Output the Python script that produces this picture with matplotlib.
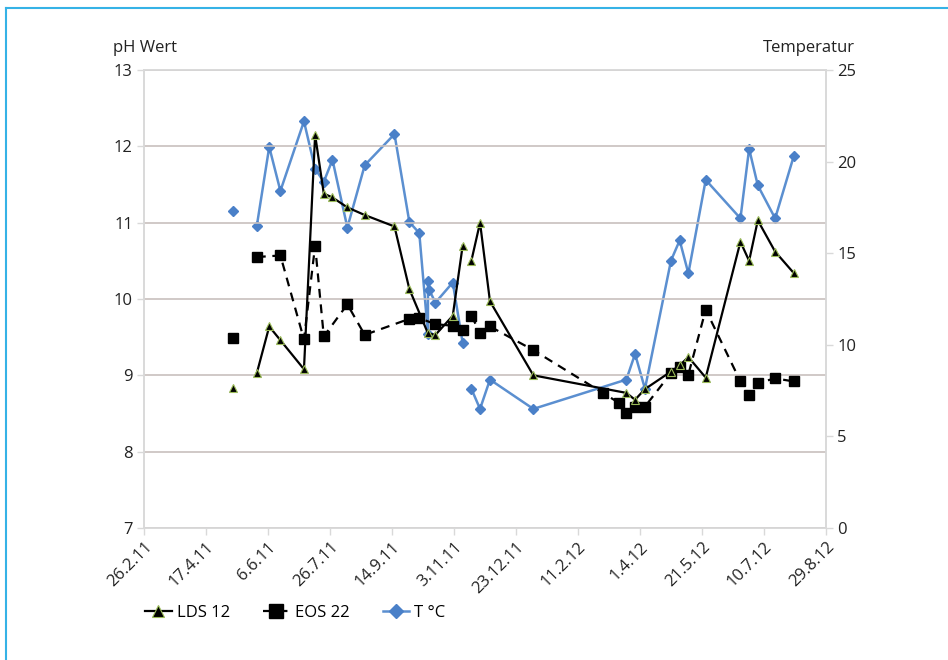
import matplotlib.pyplot as plt
import numpy as np
import pandas as pd

plt.rcParams['font.family'] = ['Open Sans', 'DejaVu Sans']

nan = np.nan

# LDS 12 (pH)
lds_dates = ['2011-05-09', '2011-05-18', '2011-05-28', '2011-06-07', '2011-06-16',
             '2011-07-05', '2011-07-14', '2011-07-21', '2011-07-28', '2011-08-09',
             '2011-08-23', '2011-09-16', '2011-09-28', '2011-10-13', '2011-10-19',
             '2011-11-02', '2011-11-10', '2011-11-14', '2011-11-17', '2011-11-24',
             '2011-12-02', '2012-01-06', '2012-03-21', '2012-03-28', '2012-04-05',
             '2012-04-26', '2012-05-03', '2012-05-10', '2012-05-24', '2012-06-21',
             '2012-06-28', '2012-07-05', '2012-07-19', '2012-08-03']
lds_vals = [8.84, nan, 9.03, 9.64, 9.46,
            9.08, 12.15, 11.38, 11.33, 11.20,
            11.10, 10.95, 10.13, 9.55, 9.53,
            9.78, 10.70, nan, 10.50, 11.00,
            9.97, 9.00, 8.77, 8.68, 8.82,
            9.05, 9.13, 9.24, 8.97, 10.75,
            10.50, 11.03, 10.62, 10.34]

# EOS 22 (pH)
eos_dates = ['2011-05-09', '2011-05-18', '2011-05-28', '2011-06-16', '2011-07-05',
             '2011-07-14', '2011-07-21', '2011-08-09', '2011-08-23', '2011-09-28',
             '2011-10-06', '2011-10-19', '2011-11-02', '2011-11-10', '2011-11-14',
             '2011-11-17', '2011-11-24', '2011-12-02', '2012-01-06', '2012-03-02',
             '2012-03-15', '2012-03-21', '2012-03-28', '2012-04-05', '2012-04-26',
             '2012-05-03', '2012-05-10', '2012-05-24', '2012-06-21', '2012-06-28',
             '2012-07-05', '2012-07-19', '2012-08-03']
eos_vals = [9.49, nan, 10.55, 10.57, 9.47,
            10.70, 9.51, 9.93, 9.53, 9.74,
            9.75, 9.67, 9.65, 9.60, nan,
            9.78, 9.56, 9.64, 9.33, 8.77,
            8.64, 8.51, 8.59, 8.59, 9.03,
            9.11, 9.01, 9.86, 8.92, 8.74,
            8.90, 8.96, 8.92]

# T °C
t_dates = ['2011-05-09', '2011-05-18', '2011-05-28', '2011-06-07', '2011-06-16',
           '2011-07-05', '2011-07-14', '2011-07-21', '2011-07-28', '2011-08-09',
           '2011-08-23', '2011-09-16', '2011-09-28', '2011-10-06', '2011-10-13',
           '2011-10-13', '2011-10-14', '2011-10-19', '2011-11-02', '2011-11-10',
           '2011-11-14', '2011-11-17', '2011-11-24', '2011-12-02', '2012-01-06',
           '2012-03-21', '2012-03-28', '2012-04-05', '2012-04-26', '2012-05-03',
           '2012-05-10', '2012-05-24', '2012-06-21', '2012-06-28', '2012-07-05',
           '2012-07-19', '2012-08-03']
t_vals = [17.3, nan, 16.5, 20.8, 18.4,
          22.2, 19.6, 18.9, 20.1, 16.4,
          19.8, 21.5, 16.7, 16.1, 10.6,
          13.5, 13.0, 12.3, 13.4, 10.1,
          nan, 7.6, 6.5, 8.1, 6.5,
          8.1, 9.5, 7.6, 14.6, 15.7,
          13.9, 19.0, 16.9, 20.7, 18.7,
          16.9, 20.3]

x_start = pd.Timestamp('2011-02-26')
x_end = pd.Timestamp('2012-08-29')
tick_dates = pd.date_range(x_start, x_end, freq='50D')
tick_labels = [f'{d.day}.{d.month}.{d.year % 100}' for d in tick_dates]

fig = plt.figure(figsize=(9.48, 6.6), dpi=100)
ax = fig.add_axes([144 / 948, 1 - 528 / 660, 682 / 948, 458 / 660])
ax2 = ax.twinx()

# frame round the whole figure (top and left only)
fig.add_artist(plt.Line2D([6 / 948, 6 / 948], [0, 1 - 8 / 660], color='#35B2E6', lw=1.5))
fig.add_artist(plt.Line2D([6 / 948, 1], [1 - 8 / 660, 1 - 8 / 660], color='#35B2E6', lw=1.5))

blue = '#5B8FD0'
ax2.plot(pd.to_datetime(t_dates), t_vals, color=blue, lw=1.8, marker='D', ms=5,
         mfc='#4A80C8', mec='#4A80C8', label='T °C', zorder=2)
ax.plot(pd.to_datetime(eos_dates), eos_vals, color='black', lw=1.6, ls=(0, (4, 3)),
        marker='s', ms=7, mfc='black', mec='black', label='EOS 22', zorder=3)
ax.plot(pd.to_datetime(lds_dates), lds_vals, color='black', lw=1.6, marker='^', ms=6,
        mfc='black', mec='#9BBB59', mew=0.8, label='LDS 12', zorder=4)

ax.set_zorder(ax2.get_zorder() + 1)
ax.patch.set_visible(False)

ax.set_xlim(x_start, x_end)
ax.set_ylim(7, 13)
ax2.set_ylim(0, 25)
ax.set_yticks(np.arange(7, 14, 1))
ax2.set_yticks(np.arange(0, 26, 5))
ax.set_xticks(tick_dates)
ax.set_xticklabels(tick_labels, rotation=45, ha='right', va='top', rotation_mode='anchor')
ax.grid(axis='y', color='#C8C0BE', lw=1.2)

for a in (ax, ax2):
    for s in a.spines.values():
        s.set_color('#D9D9D9')
        s.set_linewidth(1.2)
    a.tick_params(colors='#D9D9D9', labelcolor='#222222', labelsize=12, length=5,
                  width=1, pad=3)

ax.text(-0.046, 1.03, 'pH Wert', transform=ax.transAxes, ha='left', va='bottom',
        fontsize=12, color='#222222')
ax.text(1.043, 1.03, 'Temperatur', transform=ax.transAxes, ha='right', va='bottom',
        fontsize=12, color='#222222')

handles = [ax.get_lines()[1], ax.get_lines()[0], ax2.get_lines()[0]]
fig.legend(handles, ['LDS 12', 'EOS 22', 'T °C'], loc='center left',
           bbox_to_anchor=(130 / 948, 1 - 613 / 660), ncol=3, frameon=False,
           fontsize=12, handlelength=1.6, columnspacing=2.0, handletextpad=0.3,
           markerscale=1.4)

fig.savefig('out.png', dpi=100)
